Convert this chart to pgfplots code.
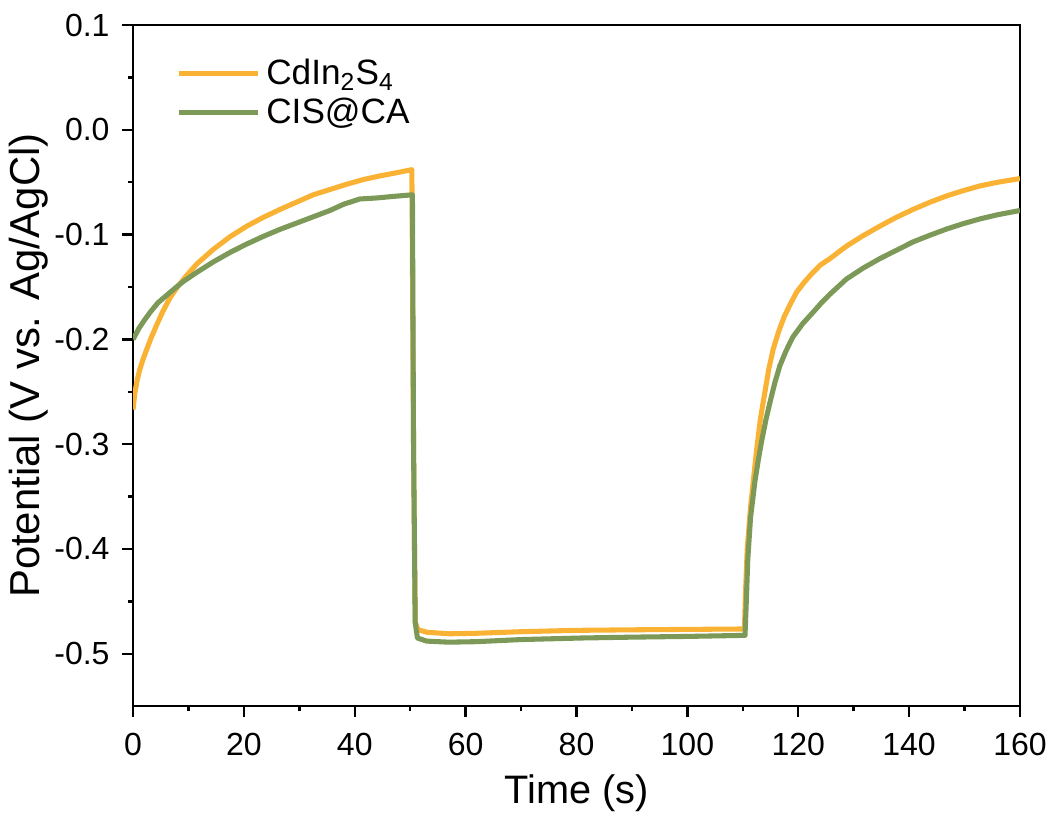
\documentclass[border=0pt]{standalone}
\usepackage{pgfplots}
\pgfplotsset{compat=1.18}
\usepackage{fontspec}
\setmainfont{Liberation Sans}

\definecolor{cisorange}{RGB}{250,178,52}
\definecolor{cisgreen}{RGB}{124,153,88}

\begin{document}
\begin{tikzpicture}
\begin{axis}[
  scale only axis,
  width=332.6pt, height=255.4pt,
  xmin=0, xmax=160, ymin=-0.55, ymax=0.1,
  xtick={0,20,...,160},
  ytick={-0.5,-0.4,-0.3,-0.2,-0.1,0,0.1},
  yticklabels={-0.5,-0.4,-0.3,-0.2,-0.1,0.0,0.1},
  minor x tick num=1, minor y tick num=1,
  tick align=outside,
  xtick pos=bottom, ytick pos=left,
  major tick length=4.1pt, minor tick length=2pt,
  axis line style={line width=0.9pt},
  every tick/.style={black, line width=0.9pt},
  /pgf/number format/assume math mode=true,
  ticklabel style={font=\fontsize{12}{14}\selectfont},
  xticklabel style={yshift=-2.6pt},
  yticklabel style={xshift=-1.2pt},
  xlabel={Time (s)}, ylabel={Potential (V vs. Ag/AgCl)},
  xlabel style={font=\fontsize{14.9}{17}\selectfont, yshift=-0.3pt},
  ylabel style={font=\fontsize{15.7}{18}\selectfont, yshift=-4.7pt},
  legend style={draw=none, fill=none, at={(0.039,0.967)}, anchor=north west,
    font=\fontsize{13.2}{15}\selectfont, row sep=-0.5pt,
    nodes={inner sep=2pt}},
  legend cell align=left,
  legend image code/.code={
    \path (0pt,0pt) -- (29.9pt,0pt);
    \draw[#1, line width=1.9pt, overlay] (0pt,0pt) -- (29pt,0pt);},
  every axis plot/.append style={line width=1.9pt, line join=round},
]
\addplot[cisorange] coordinates {
  (0,-0.267) (0.3,-0.252) (0.7,-0.240) (1.2,-0.229) (1.8,-0.219) (2.5,-0.209)
  (3.3,-0.198) (4.2,-0.187) (5.4,-0.173) (6.7,-0.160) (8,-0.150) (9.5,-0.140)
  (11.5,-0.128) (14.5,-0.114) (17.5,-0.102)
  (20.5,-0.092) (23.5,-0.0835) (26.5,-0.076) (29.5,-0.069) (32.5,-0.062)
  (35.5,-0.057) (38.5,-0.052) (41.5,-0.0475) (44.5,-0.044) (47.5,-0.041)
  (50.3,-0.038) (50.6,-0.30) (50.9,-0.470) (51.4,-0.477) (53,-0.4795)
  (57,-0.481) (62,-0.4805) (70,-0.479) (80,-0.4777) (90,-0.4772)
  (100,-0.4768) (110.3,-0.4764) (110.5,-0.44) (110.8,-0.40) (111.4,-0.36)
  (112.5,-0.305) (113.2,-0.275) (114,-0.250) (114.7,-0.228) (115.5,-0.209)
  (116.5,-0.192) (117.5,-0.178) (118.6,-0.166) (119.7,-0.155) (121,-0.146)
  (122.5,-0.137) (124,-0.129) (125.7,-0.123) (128.7,-0.111) (131.7,-0.101)
  (134.7,-0.092) (137.7,-0.0835) (140.7,-0.076) (143.8,-0.069) (146.8,-0.063)
  (149.8,-0.058) (152.8,-0.0535) (156,-0.050) (160,-0.0465)
};
\addlegendentry{CdIn\textsubscript{2}S\textsubscript{4}}
\addplot[cisgreen] coordinates {
  (0,-0.200) (1,-0.190) (2,-0.182) (3.1,-0.174) (4.5,-0.165) (6.7,-0.155)
  (9,-0.145) (11.5,-0.136) (14.5,-0.126) (17.5,-0.117) (20.5,-0.109)
  (23.5,-0.1017) (26.5,-0.095) (29.5,-0.089) (32.5,-0.083) (35.5,-0.077)
  (38,-0.071) (40.9,-0.066) (44,-0.065) (47,-0.0635) (50.4,-0.062)
  (50.6,-0.30) (50.9,-0.470) (51.3,-0.485) (53,-0.488) (57,-0.489)
  (62,-0.4885) (70,-0.4865) (81,-0.485) (90,-0.4842) (100,-0.4835)
  (110.4,-0.4825) (110.6,-0.455) (110.9,-0.41) (111.4,-0.37) (112.2,-0.335)
  (112.8,-0.315) (113.4,-0.297) (114.2,-0.276) (115,-0.258) (115.8,-0.241)
  (116.7,-0.225) (117.8,-0.211) (119,-0.198) (120.8,-0.185) (122.7,-0.174)
  (124.2,-0.165) (125.7,-0.157) (128.7,-0.1424) (131.7,-0.132)
  (134.7,-0.123) (137.7,-0.115) (140.7,-0.107) (143.8,-0.1005)
  (146.8,-0.0946) (149.8,-0.0895) (152.8,-0.085) (156,-0.081) (160,-0.077)
};
\addlegendentry{CIS@CA}
\coordinate (bl) at (rel axis cs:0,0);
\coordinate (tr) at (rel axis cs:1,1);
\end{axis}
\pgfresetboundingbox
\path ([shift={(-49.9pt,-39.75pt)}]bl) rectangle ([shift={(12.4pt,9.4pt)}]tr);
\end{tikzpicture}
\end{document}
